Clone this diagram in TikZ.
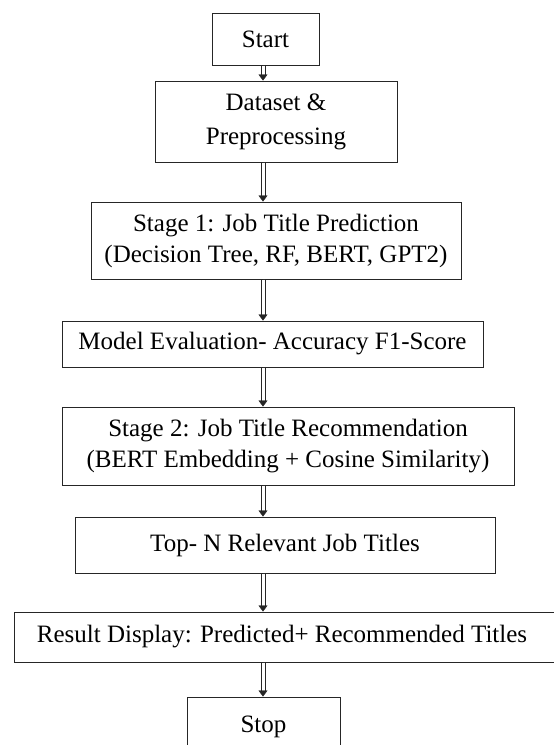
\documentclass[tikz,border=0pt]{standalone}
\usepackage{fontspec}
\setmainfont{Liberation Serif}
\usetikzlibrary{arrows.meta}
\begin{document}
\begin{tikzpicture}[x=1pt,y=-1pt,
  stepbox/.style={draw=black!85, line width=1pt, align=center, inner sep=0pt,
    font=\fontsize{25}{31}\selectfont},
  % hollow double shaft with a small solid head
  flow/.style={draw=white, line width=0.3pt,
    -{Triangle[width=9pt,length=6pt,black!85]},
    preaction={draw=black!85, double=white, double distance=3pt, line width=1pt,
      shorten >=5pt, -}}]
  \useasboundingbox[fill=white] (0,0) rectangle (554,745);
  % arrow column
  \coordinate (axis) at (263,0);
  % process boxes
  \node[stepbox, minimum width=107pt, minimum height=52pt] (start) at (265.5,39) {Start};
  \node[stepbox, minimum width=242pt, minimum height=81pt] (data) at (276,121.5) {Dataset \&\\[3pt] Preprocessing};
  \node[stepbox, minimum width=370pt, minimum height=77pt] (st1) at (276,240.5) {Stage 1: Job Title Prediction\\(Decision Tree, RF, BERT, GPT2)};
  \node[stepbox, minimum width=421pt, minimum height=46pt] (eval) at (272.5,344) {Model Evaluation- Accuracy F1-Score};
  \node[stepbox, minimum width=452pt, minimum height=78pt] (st2) at (288,446) {Stage 2: Job Title Recommendation\\(BERT Embedding + Cosine Similarity)};
  \node[stepbox, minimum width=420pt, minimum height=56pt] (topn) at (285,545) {Top- N Relevant Job Titles};
  \node[stepbox, minimum width=546pt, minimum height=50pt] (res) at (287,637) {Result Display: Predicted+ Recommended Titles\hspace*{10pt}};
  \node[stepbox, minimum width=153pt, minimum height=60pt] (stop) at (263.5,727) {Stop};
  % connectors
  \draw[flow] (start.south -| axis) -- (data.north -| axis);
  \draw[flow] (data.south -| axis) -- (st1.north -| axis);
  \draw[flow] (st1.south -| axis) -- (eval.north -| axis);
  \draw[flow] (eval.south -| axis) -- (st2.north -| axis);
  \draw[flow] (st2.south -| axis) -- (topn.north -| axis);
  \draw[flow] (topn.south -| axis) -- (res.north -| axis);
  \draw[flow] (res.south -| axis) -- (stop.north -| axis);
\end{tikzpicture}
\end{document}
